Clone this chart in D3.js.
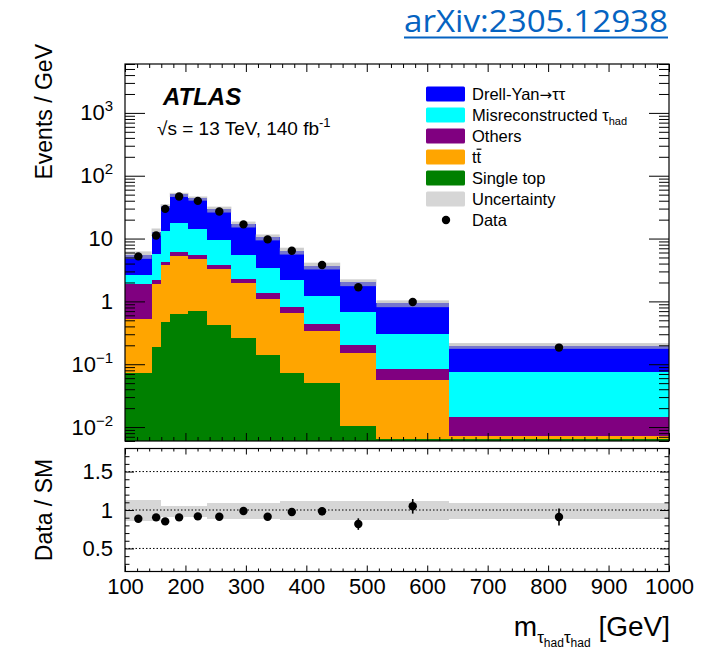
<!DOCTYPE html>
<html>
<head>
<meta charset="utf-8">
<script src="https://cdn.jsdelivr.net/npm/d3@7"></script>
<style>
body { margin: 0; background: #fff; }
svg { display: block; font-family: "Liberation Sans", Arial, Helvetica, sans-serif; }
</style>
</head>
<body>
<svg width="707" height="650"></svg>
<script>
// bin edges of the visible di-tau mass (GeV)
var binEdges = [100, 144, 159, 174, 205, 236, 276, 316, 356, 396, 456, 516, 636, 1000];

// background expectation per bin, events / GeV (stack order bottom -> top)
var singleTop = [0.072, 0.19, 0.47, 0.635, 0.716, 0.42, 0.258, 0.139, 0.0736, 0.0498, 0.0105, 0.0064, 0.0064];
var ttbar     = [0.448, 1.73, 3.28, 4.72, 4.01, 2.90, 1.71, 0.96, 0.586, 0.287, 0.1425, 0.0492, 0.0007];
var others    = [1.40, 0.25, 0.50, 0.75, 0.67, 0.53, 0.31, 0.27, 0.15, 0.103, 0.052, 0.0274, 0.0075];
var misreco   = [0.75, 3.51, 8.75, 11.3, 8.8, 5.55, 3.25, 2.04, 1.41, 0.77, 0.468, 0.217, 0.0607];
var drellYan  = [2.86, 7.12, 20.5, 33.4, 30.2, 20.0, 11.47, 7.19, 4.18, 2.49, 1.337, 0.63, 0.1227];

// observed data, events / GeV
var dataValues = [5.2, 11.2, 29.7, 46.6, 39.8, 26.9, 16.8, 9.7, 6.4, 3.8, 1.68, 0.98, 0.184];

// ratio panel
var ratioValues = [0.887, 0.904, 0.852, 0.904, 0.917, 0.913, 0.987, 0.913, 0.974, 0.983, 0.817, 1.048, 0.909];
var ratioErrors = [0.02, 0.045, 0.015, 0.02, 0.02, 0.025, 0.03, 0.025, 0.05, 0.05, 0.075, 0.095, 0.11];
var uncUp   = [1.13, 1.13, 1.052, 1.052, 1.052, 1.096, 1.096, 1.096, 1.117, 1.117, 1.117, 1.117, 1.096];
var uncDown = [0.86, 0.86, 0.904, 0.904, 0.904, 0.883, 0.883, 0.883, 0.870, 0.870, 0.870, 0.870, 0.887];

// tick labels
var xTickValues = [100, 200, 300, 400, 500, 600, 700, 800, 900, 1000];
var ratioTickValues = [0.5, 1, 1.5];
var logDecades = [-2, -1, 0, 1, 2, 3];

var svg = d3.select('svg');

var frame = {l: 125, r: 669, t: 64, b: 441};
var rFrame = {t: 448.5, b: 571.5};

var x = d3.scaleLinear().domain([100, 1000]).range([frame.l, frame.r]);
var y = d3.scaleLog().domain([0.006, 6000]).range([frame.b, frame.t]);
var yr = d3.scaleLinear().domain([0.2, 1.8]).range([rFrame.b, rFrame.t]);

var keys = ['singleTop', 'ttbar', 'others', 'misreco', 'drellYan'];
var colors = {
    singleTop: '#008000',
    ttbar: '#ffa500',
    others: '#800080',
    misreco: '#00ffff',
    drellYan: '#0000ff'
};

var bins = dataValues.map(function(d, i) {
    return {
        lo: binEdges[i], hi: binEdges[i + 1], data: d,
        singleTop: singleTop[i], ttbar: ttbar[i], others: others[i],
        misreco: misreco[i], drellYan: drellYan[i]
    };
});
bins.forEach(function(b) {
    b.total = b.singleTop + b.ttbar + b.others + b.misreco + b.drellYan;
});

var series = d3.stack().keys(keys)(bins);

// stacked histogram
svg.append('g')
    .attr('shape-rendering', 'crispEdges')
    .selectAll('g')
    .data(series)
    .join('g')
    .attr('fill', function(d) { return colors[d.key]; })
    .selectAll('rect')
    .data(function(d) { return d; })
    .join('rect')
    .attr('x', function(d) { return x(d.data.lo); })
    .attr('width', function(d) { return x(d.data.hi) - x(d.data.lo); })
    .attr('y', function(d) { return y(d[1]); })
    .attr('height', function(d) { return y(Math.max(d[0], 0.006)) - y(d[1]); });

// uncertainty band on the stack
svg.append('g')
    .selectAll('rect')
    .data(bins)
    .join('rect')
    .attr('x', function(d) { return x(d.lo); })
    .attr('width', function(d) { return x(d.hi) - x(d.lo); })
    .attr('y', function(d, i) { return y(d.total * uncUp[i]); })
    .attr('height', function(d, i) { return y(d.total * uncDown[i]) - y(d.total * uncUp[i]); })
    .attr('fill', '#b4b4b4')
    .attr('fill-opacity', 0.65);

// data points
svg.append('g')
    .selectAll('circle')
    .data(bins)
    .join('circle')
    .attr('cx', function(d) { return x((d.lo + d.hi) / 2); })
    .attr('cy', function(d) { return y(d.data); })
    .attr('r', 4.2)
    .attr('fill', '#000');

// ---- ratio panel ----
svg.append('g')
    .attr('shape-rendering', 'crispEdges')
    .selectAll('rect')
    .data(bins)
    .join('rect')
    .attr('x', function(d) { return x(d.lo); })
    .attr('width', function(d) { return x(d.hi) - x(d.lo); })
    .attr('y', function(d, i) { return yr(uncUp[i]); })
    .attr('height', function(d, i) { return yr(uncDown[i]) - yr(uncUp[i]); })
    .attr('fill', '#d6d6d6');

svg.append('g')
    .selectAll('line')
    .data(ratioTickValues)
    .join('line')
    .attr('x1', frame.l).attr('x2', frame.r)
    .attr('y1', function(d) { return yr(d); })
    .attr('y2', function(d) { return yr(d); })
    .attr('stroke', '#000')
    .attr('stroke-width', 1)
    .attr('stroke-dasharray', '1.5,2');

var ratioG = svg.append('g');
ratioG.selectAll('line')
    .data(bins)
    .join('line')
    .attr('x1', function(d) { return x((d.lo + d.hi) / 2); })
    .attr('x2', function(d) { return x((d.lo + d.hi) / 2); })
    .attr('y1', function(d, i) { return yr(ratioValues[i] + ratioErrors[i]); })
    .attr('y2', function(d, i) { return yr(ratioValues[i] - ratioErrors[i]); })
    .attr('stroke', '#000')
    .attr('stroke-width', 1.6);
ratioG.selectAll('circle')
    .data(bins)
    .join('circle')
    .attr('cx', function(d) { return x((d.lo + d.hi) / 2); })
    .attr('cy', function(d, i) { return yr(ratioValues[i]); })
    .attr('r', 4.2)
    .attr('fill', '#000');

// ---- ticks ----
var logMinor = [], logMajor = [];
for (var e = -3; e <= 3; e++) {
    for (var m = 1; m <= 9; m++) {
        var v = m * Math.pow(10, e);
        if (v < 0.00599 || v > 6000) continue;
        if (m === 1) logMajor.push(v); else logMinor.push(v);
    }
}
var xMinor = d3.range(120, 1000, 20).filter(function(d) { return d % 100 !== 0; });
var rMinor = d3.range(3, 18).map(function(d) { return d / 10; })
    .filter(function(d) { return ratioTickValues.indexOf(d) < 0; });

function noDomain(g) {
    g.select('.domain').remove();
    g.selectAll('line').attr('stroke', '#000');
}

function ticks(axis, tx, ty) {
    svg.append('g')
        .attr('transform', 'translate(' + [tx, ty] + ')')
        .call(axis.tickFormat(''))
        .call(noDomain);
}

// main panel
ticks(d3.axisLeft(y).tickValues(logMinor).tickSize(-10), frame.l, 0);
ticks(d3.axisLeft(y).tickValues(logMajor).tickSize(-20), frame.l, 0);
ticks(d3.axisRight(y).tickValues(logMinor).tickSize(-10), frame.r, 0);
ticks(d3.axisRight(y).tickValues(logMajor).tickSize(-20), frame.r, 0);
ticks(d3.axisBottom(x).tickValues(xMinor).tickSize(-4), 0, frame.b);
ticks(d3.axisBottom(x).tickValues(xTickValues).tickSize(-8), 0, frame.b);
ticks(d3.axisTop(x).tickValues(xMinor).tickSize(-4), 0, frame.t);
ticks(d3.axisTop(x).tickValues(xTickValues).tickSize(-8), 0, frame.t);

// ratio panel
ticks(d3.axisLeft(yr).tickValues(rMinor).tickSize(-4.5), frame.l, 0);
ticks(d3.axisLeft(yr).tickValues(ratioTickValues).tickSize(-9), frame.l, 0);
ticks(d3.axisRight(yr).tickValues(rMinor).tickSize(-4.5), frame.r, 0);
ticks(d3.axisRight(yr).tickValues(ratioTickValues).tickSize(-9), frame.r, 0);
ticks(d3.axisBottom(x).tickValues(xMinor).tickSize(-3), 0, rFrame.b);
ticks(d3.axisBottom(x).tickValues(xTickValues).tickSize(-6), 0, rFrame.b);
ticks(d3.axisTop(x).tickValues(xMinor).tickSize(-3), 0, rFrame.t);
ticks(d3.axisTop(x).tickValues(xTickValues).tickSize(-6), 0, rFrame.t);

// frames
svg.append('rect')
    .attr('x', frame.l).attr('y', frame.t)
    .attr('width', frame.r - frame.l).attr('height', frame.b - frame.t)
    .attr('fill', 'none').attr('stroke', '#000').attr('stroke-width', 1.2);
svg.append('rect')
    .attr('x', frame.l).attr('y', rFrame.t)
    .attr('width', frame.r - frame.l).attr('height', rFrame.b - rFrame.t)
    .attr('fill', 'none').attr('stroke', '#000').attr('stroke-width', 1.2);

// ---- tick labels ----
var xLabels = svg.append('g')
    .attr('transform', 'translate(0,' + rFrame.b + ')')
    .call(d3.axisBottom(x).tickValues(xTickValues).tickSize(0).tickPadding(7).tickFormat(d3.format('d')));
xLabels.select('.domain').remove();
xLabels.selectAll('text').attr('fill', '#000').style('font-size', '22px')
    .style('font-family', '"Liberation Sans", Arial, sans-serif');

var rLabels = svg.append('g')
    .attr('transform', 'translate(113,0)')
    .call(d3.axisLeft(yr).tickValues(ratioTickValues).tickSize(0).tickPadding(0).tickFormat(d3.format('')));
rLabels.select('.domain').remove();
rLabels.selectAll('text').attr('fill', '#000').style('font-size', '22px')
    .style('font-family', '"Liberation Sans", Arial, sans-serif');

logDecades.forEach(function(ex) {
    var t = svg.append('text')
        .attr('x', 113)
        .attr('y', y(Math.pow(10, ex)) + 7.5)
        .attr('text-anchor', 'end')
        .style('font-size', '22px');
    if (ex === 0) {
        t.text('1');
    } else if (ex === 1) {
        t.text('10');
    } else {
        t.append('tspan').text('10');
        t.append('tspan').attr('dy', -9).style('font-size', '15px')
            .text(ex < 0 ? '\u2212' + (-ex) : String(ex));
    }
});

// ---- axis titles ----
svg.append('text')
    .attr('transform', 'translate(52,44) rotate(-90)')
    .attr('text-anchor', 'end')
    .style('font-size', '23px')
    .text('Events / GeV');
svg.append('text')
    .attr('transform', 'translate(52,510) rotate(-90)')
    .attr('text-anchor', 'middle')
    .style('font-size', '23px')
    .text('Data / SM');

var xt = svg.append('text')
    .attr('x', 670).attr('y', 636)
    .attr('text-anchor', 'end')
    .style('font-size', '28px');
xt.append('tspan').text('m');
xt.append('tspan').attr('dy', 7).style('font-size', '17px').text('\u03c4');
xt.append('tspan').attr('dy', 4).style('font-size', '12px').text('had');
xt.append('tspan').attr('dy', -4).style('font-size', '17px').text('\u03c4');
xt.append('tspan').attr('dy', 4).style('font-size', '12px').text('had');
xt.append('tspan').attr('dy', -11).text(' [GeV]');

// ---- ATLAS label ----
svg.append('text')
    .attr('x', 163).attr('y', 105)
    .style('font-size', '24px').style('font-weight', 'bold').style('font-style', 'italic')
    .text('ATLAS');
var lumi = svg.append('text')
    .attr('x', 157).attr('y', 135)
    .style('font-size', '19px');
lumi.append('tspan').text('\u221As = 13 TeV, 140 fb');
lumi.append('tspan').attr('dy', -8).style('font-size', '13px').text('-1');

// ---- legend ----
var legendRows = [
    {key: 'drellYan', label: 'Drell-Yan', arrow: true, tail: '\u03c4\u03c4'},
    {key: 'misreco', label: 'Misreconstructed \u03c4', sub: 'had'},
    {key: 'others', label: 'Others'},
    {key: 'ttbar', label: 'tt'},
    {key: 'singleTop', label: 'Single top'},
    {key: 'unc', label: 'Uncertainty'},
    {key: 'data', label: 'Data'}
];
var legend = svg.append('g').attr('transform', 'translate(426,94)');
legendRows.forEach(function(row, i) {
    var cy = i * 21;
    if (row.key === 'data') {
        legend.append('circle').attr('cx', 20).attr('cy', cy).attr('r', 4.2).attr('fill', '#000');
    } else {
        legend.append('rect')
            .attr('x', 0).attr('y', cy - 7.5)
            .attr('width', 39).attr('height', 15).attr('rx', 1.5)
            .attr('fill', row.key === 'unc' ? '#d6d6d6' : colors[row.key]);
    }
    var t = legend.append('text')
        .attr('x', 46).attr('y', cy + 6)
        .style('font-size', '16.5px');
    t.append('tspan').text(row.label);
    if (row.arrow) {
        t.append('tspan').style('font-family', '"DejaVu Sans", sans-serif').style('font-size', '15px').text('\u2192');
        t.append('tspan').text(row.tail);
    }
    if (row.sub) {
        t.append('tspan').attr('dy', 4).style('font-size', '11px').text(row.sub);
    }
    if (row.key === 'ttbar') {
        legend.append('line')
            .attr('x1', 50.6).attr('x2', 55.4)
            .attr('y1', cy - 7.8).attr('y2', cy - 7.8)
            .attr('stroke', '#000').attr('stroke-width', 1.2);
    }
});

// ---- arXiv reference ----
svg.append('text')
    .attr('x', 404).attr('y', 32)
    .attr('textLength', 264).attr('lengthAdjust', 'spacingAndGlyphs')
    .style('font-family', '"Open Sans", "Noto Sans", sans-serif')
    .style('font-size', '31px')
    .attr('fill', '#0563c1')
    .text('arXiv:2305.12938');
svg.append('line')
    .attr('x1', 404).attr('x2', 668)
    .attr('y1', 37.5).attr('y2', 37.5)
    .attr('stroke', '#0563c1').attr('stroke-width', 2);
</script>
</body>
</html>
